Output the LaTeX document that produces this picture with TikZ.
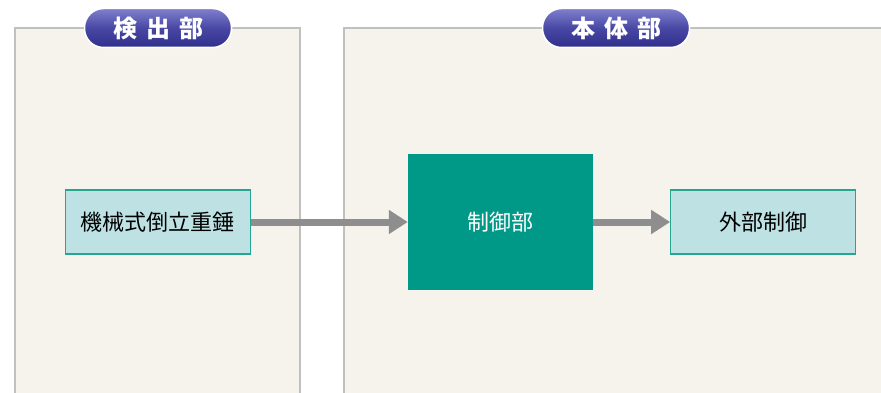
\documentclass[tikz,border=0pt]{standalone}
\usepackage{fontspec}
\setmainfont{Noto Sans CJK JP}
\usepackage{xcolor}
\usepackage{tikz}
\usetikzlibrary{arrows.meta,positioning}
\definecolor{panelfill}{RGB}{246,243,236}
\definecolor{panelline}{RGB}{192,192,190}
\definecolor{unitfill}{RGB}{190,226,228}
\definecolor{unitline}{RGB}{36,166,146}
\definecolor{ctrlfill}{RGB}{0,153,136}
\definecolor{flowgray}{RGB}{142,142,142}
\definecolor{badgetop}{RGB}{128,128,206}
\definecolor{badgemid}{RGB}{72,72,164}
\definecolor{badgebot}{RGB}{48,48,140}
\tikzset{
  panel edge/.style={draw=panelline,line width=2pt},
  unit box/.style={rectangle,draw=unitline,fill=unitfill,line width=1.2pt,minimum width=185pt,minimum height=64pt,inner sep=0pt,font=\fontsize{22}{26}\selectfont},
  ctrl box/.style={rectangle,fill=ctrlfill,minimum width=185pt,minimum height=136pt,inner sep=0pt,text=white,font=\fontsize{22}{26}\selectfont},
  badge/.style={rectangle,rounded corners=19pt,draw=white,line width=1.5pt,top color=badgetop,bottom color=badgebot,middle color=badgemid,minimum width=147pt,minimum height=39pt,inner sep=0pt,text=white,font=\fontsize{24}{27}\selectfont\bfseries},
  flow arrow/.style={-{Triangle[length=19pt,width=23pt]},line width=7pt,draw=flowgray}
}
\begin{document}
\begin{tikzpicture}[x=1pt,y=-1pt]
  \useasboundingbox (0,0) rectangle (881,393);
  % panels, open at the bottom
  \fill[panelfill] (15,28) rectangle (300,393);
  \fill[panelfill] (344,28) rectangle (881,393);
  \draw[panel edge] (15,393) |- (300,28) -- (300,393);
  \draw[panel edge] (344,393) |- (881,28);
  \node[badge] (detect) at (158,28) {検\hspace{9pt}出\hspace{9pt}部};
  \node[badge] (body) at (616,28) {本\hspace{9pt}体\hspace{9pt}部};
  % blocks
  \node[ctrl box] (ctrl) at (500.5,222) {制御部};
  \node[unit box,left=157pt of ctrl] (pend) {機械式倒立重錘};
  \node[unit box,right=77pt of ctrl] (ext) {外部制御};
  \draw[flow arrow] (pend) -- (ctrl);
  \draw[flow arrow] (ctrl) -- (ext);
\end{tikzpicture}
\end{document}
